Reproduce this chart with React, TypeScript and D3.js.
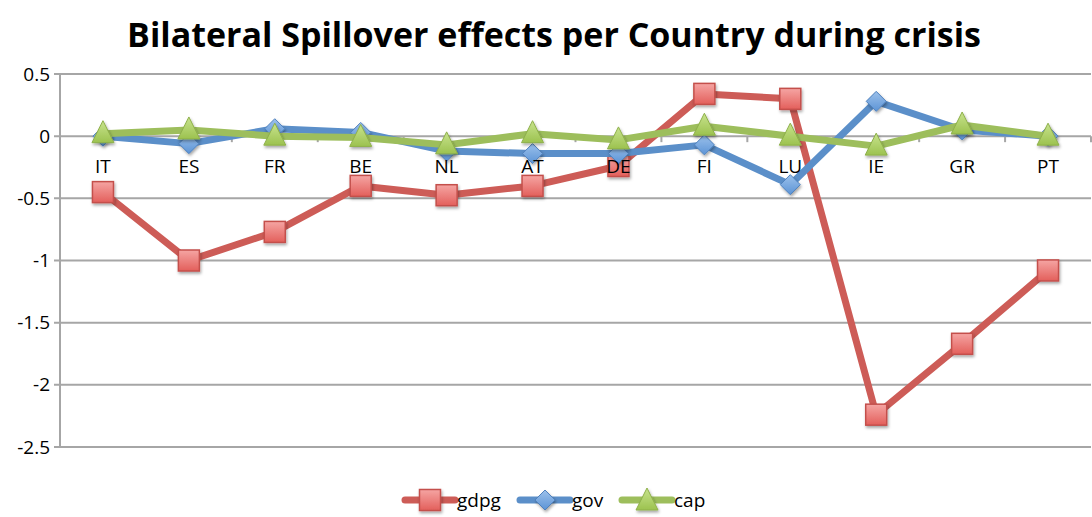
import React from "react";
import * as d3 from "d3";

const categories = ["IT", "ES", "FR", "BE", "NL", "AT", "DE", "FI", "LU", "IE", "GR", "PT"];
const gdpg = [-0.45, -1.0, -0.77, -0.4, -0.475, -0.4, -0.24, 0.34, 0.3, -2.24, -1.67, -1.08];
const gov = [0.0, -0.06, 0.06, 0.03, -0.12, -0.14, -0.14, -0.07, -0.39, 0.28, 0.05, 0.0];
const cap = [0.02, 0.05, 0.0, -0.01, -0.07, 0.02, -0.03, 0.08, 0.0, -0.08, 0.09, 0.0];
const yTicks = [0.5, 0, -0.5, -1, -1.5, -2, -2.5];
const title = "Bilateral Spillover effects per Country during crisis";

const W = 1092, H = 517;
const left = 60, right = 1091, top = 74, bottom = 447;
const font = "'Open Sans', 'Liberation Sans', sans-serif";

const series = [
  { name: "gdpg", values: gdpg, color: "#CD5C57", shape: "square", fillA: "#F5A5A3", fillB: "#E35F5B", stroke: "#C4504C" },
  { name: "gov", values: gov, color: "#5B8FC9", shape: "diamond", fillA: "#9CC1EB", fillB: "#5C94D6", stroke: "#4F81BD" },
  { name: "cap", values: cap, color: "#9DBE5C", shape: "triangle", fillA: "#C8E38E", fillB: "#9CC24F", stroke: "#8EB04A" },
];

function Marker({ shape, x, y, grad, stroke }: any) {
  if (shape === "square") {
    const h = 10.5;
    return <rect x={x - h} y={y - h} width={2 * h} height={2 * h} fill={`url(#${grad})`} stroke={stroke} strokeWidth={1.5} filter="url(#shadow)" />;
  }
  if (shape === "diamond") {
    const h = 10;
    return <path d={`M${x},${y - h}L${x + h},${y}L${x},${y + h}L${x - h},${y}Z`} fill={`url(#${grad})`} stroke={stroke} strokeWidth={1} filter="url(#shadow)" />;
  }
  const h = 11;
  return <path d={`M${x},${y - h - 2}L${x + h},${y + h - 2}L${x - h},${y + h - 2}Z`} fill={`url(#${grad})`} stroke={stroke} strokeWidth={1} filter="url(#shadow)" />;
}

export default function App() {
  const x = d3.scaleBand<string>().domain(categories).range([left, right]);
  const y = d3.scaleLinear().domain([-2.5, 0.5]).range([bottom, top]);
  const cx = (c: string) => (x(c) as number) + x.bandwidth() / 2;
  const line = d3.line<number>().x((_, i) => cx(categories[i])).y((d) => y(d));
  const boundaries = d3.range(categories.length + 1).map((i) => left + i * x.bandwidth());

  const legendItems = [
    { s: series[0], x0: 405, tx: 457 },
    { s: series[1], x0: 520, tx: 572 },
    { s: series[2], x0: 622, tx: 674 },
  ];

  return (
    <svg width={W} height={H} style={{ position: "absolute", left: 0, top: 0 }}>
      <defs>
        {series.map((s) => (
          <linearGradient key={s.name} id={`g-${s.name}`} x1="0" y1="0" x2="0" y2="1">
            <stop offset="0" stopColor={s.fillA} />
            <stop offset="1" stopColor={s.fillB} />
          </linearGradient>
        ))}
        <filter id="shadow" x="-50%" y="-50%" width="200%" height="200%">
          <feDropShadow dx="1" dy="2" stdDeviation="1.5" floodColor="#000" floodOpacity="0.35" />
        </filter>
      </defs>
      <rect width={W} height={H} fill="#fff" />
      <text x={W / 2 + 8} y={47} textAnchor="middle" fontFamily={font} fontWeight="bold" fontSize={34} fill="#000">{title}</text>
      {yTicks.map((t) => (
        <g key={t}>
          <line x1={left - 6} x2={right} y1={y(t)} y2={y(t)} stroke="#A6A6A6" strokeWidth={2} />
          <text x={left - 10} y={y(t)} dy="0.35em" textAnchor="end" fontFamily={font} fontSize={19} fill="#000">{t}</text>
        </g>
      ))}
      <line x1={left} x2={left} y1={top} y2={bottom} stroke="#A6A6A6" strokeWidth={2} />
      {boundaries.map((b, i) => (
        <line key={i} x1={b} x2={b} y1={y(0)} y2={y(0) + 6} stroke="#A6A6A6" strokeWidth={2} />
      ))}
      {series.map((s) => (
        <g key={s.name}>
          <path d={line(s.values) as string} fill="none" stroke={s.color} strokeWidth={7} strokeLinejoin="round" />
          {s.values.map((v, i) => (
            <Marker key={i} shape={s.shape} x={cx(categories[i])} y={y(v)} grad={`g-${s.name}`} stroke={s.stroke} />
          ))}
        </g>
      ))}
      {categories.map((c) => (
        <text key={c} x={cx(c)} y={y(0) + 37} textAnchor="middle" fontFamily={font} fontSize={19} fill="#000">{c}</text>
      ))}
      {legendItems.map(({ s, x0, tx }) => (
        <g key={s.name}>
          <line x1={x0} x2={x0 + 50} y1={500} y2={500} stroke={s.color} strokeWidth={7} strokeLinecap="round" />
          <Marker shape={s.shape} x={x0 + 25} y={s.shape === "triangle" ? 501 : 500} grad={`g-${s.name}`} stroke={s.stroke} />
          <text x={tx} y={500} dy="0.35em" fontFamily={font} fontSize={19} fill="#000">{s.name}</text>
        </g>
      ))}
    </svg>
  );
}
